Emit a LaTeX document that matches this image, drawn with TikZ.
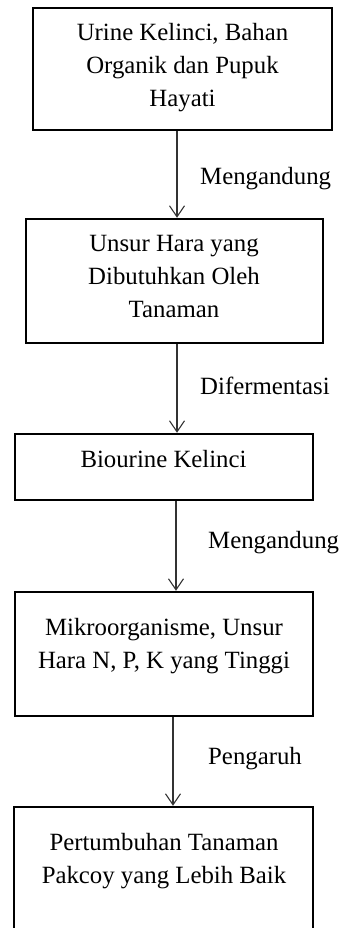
\documentclass[tikz,border=0pt]{standalone}
\usepackage{fontspec}
\setmainfont{Liberation Serif}
\usetikzlibrary{arrows.meta}
\begin{document}
\begin{tikzpicture}[x=1pt,y=-1pt,
  box/.style={draw=black,line width=2.5pt,rectangle,inner sep=0pt},
  txt/.style={align=center,inner sep=0pt,anchor=base,font=\fontsize{24.8}{33}\selectfont,text=black},
  lbl/.style={inner sep=0pt,anchor=base west,font=\fontsize{24.8}{33}\selectfont,text=black},
  arr/.style={draw=black!80,line width=1.1pt,-{Straight Barb[length=11pt,width=15pt,line width=1.1pt]}}]
\useasboundingbox (0,0) rectangle (343,928);
\clip (0,0) rectangle (343,928);
\node[box,minimum width=299pt,minimum height=122pt] (b1) at (182.5,69) {};
\node[box,minimum width=297pt,minimum height=124pt] (b2) at (174.5,281) {};
\node[box,minimum width=298pt,minimum height=66pt] (b3) at (164,467) {};
\node[box,minimum width=298pt,minimum height=124pt] (b4) at (164,654) {};
\node[box,minimum width=299pt,minimum height=153pt] (b5) at (163.5,883.5) {};
\node[txt] (t1) at (182.5,107) {Urine Kelinci, Bahan\\Organik dan Pupuk\\Hayati};
\node[txt] (t2) at (174,317) {Unsur Hara yang\\Dibutuhkan Oleh\\Tanaman};
\node[txt] (t3) at (163.5,467) {Biourine Kelinci};
\node[txt] (t4) at (164,668) {Mikroorganisme, Unsur\\Hara N, P, K yang Tinggi};
\node[txt] (t5) at (164,883) {Pertumbuhan Tanaman\\Pakcoy yang Lebih Baik};
\coordinate (x1) at (177,0);
\coordinate (x2) at (177,0);
\coordinate (x3) at (176,0);
\coordinate (x4) at (173,0);
\draw[arr] (b1.south -| x1) -- (b2.north -| x1);
\draw[arr] (b2.south -| x2) -- (b3.north -| x2);
\draw[arr] (b3.south -| x3) -- (b4.north -| x3);
\draw[arr] (b4.south -| x4) -- (b5.north -| x4);
\node[lbl] (l1) at (200,184) {Mengandung};
\node[lbl] (l2) at (200,394) {Difermentasi};
\node[lbl] (l3) at (208,548) {Mengandung};
\node[lbl] (l4) at (208,764) {Pengaruh};
\end{tikzpicture}
\end{document}
